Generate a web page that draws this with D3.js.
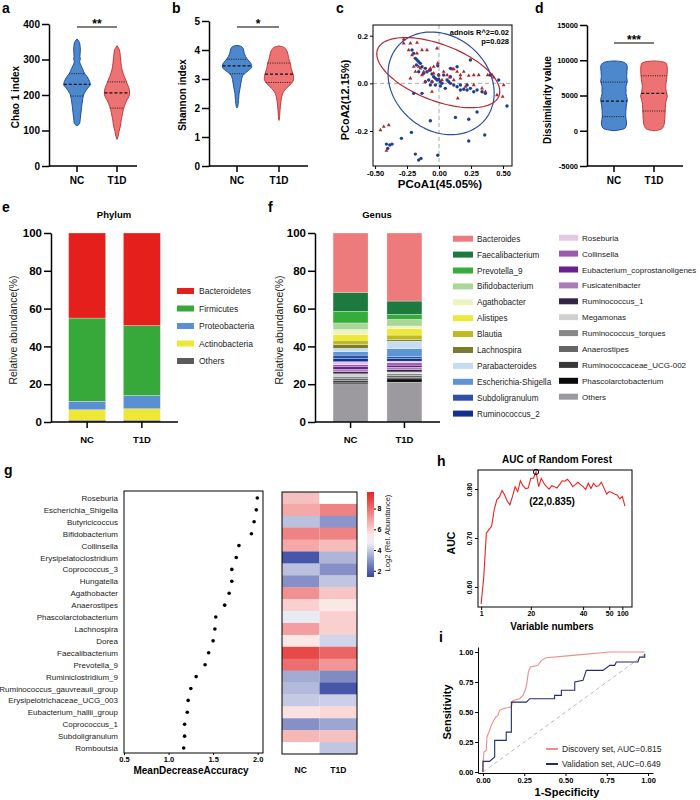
<!DOCTYPE html>
<html>
<head>
<meta charset="utf-8">
<script src="https://cdn.jsdelivr.net/npm/d3@7"></script>
<style>
body { margin: 0; background: #fff; }
svg { display: block; }
</style>
</head>
<body>
<script>
const FONT = "'Liberation Sans', Arial, Helvetica, sans-serif"
const groups = ['NC', 'T1D']

// ---- a/b/d violins: [value, relative half width] ----
const chaoNC = [[113,0],[120,0.2],[135,0.25],[150,0.3],[168,0.35],[186,0.42],[205,0.55],[219,0.8],[229,1.0],[238,0.95],[252,0.75],[262,0.55],[271,0.45],[283,0.3],[295,0.2],[300,0.25],[309,0.22],[327,0.25],[346,0.2],[358,0]]
const chaoT1D = [[75,0],[83,0.08],[97,0.15],[111,0.25],[130,0.32],[149,0.42],[168,0.55],[186,0.75],[196,0.9],[205,0.95],[219,0.9],[233,0.75],[252,0.55],[271,0.38],[290,0.3],[309,0.25],[327,0.18],[339,0]]
const chaoQuart = [[197, 230, 260], [163, 206, 237]]
const chaoTicks = [0, 100, 200, 300, 400]

const shannonNC = [[2.0,0],[2.05,0.05],[2.26,0.1],[2.49,0.14],[2.72,0.22],[2.9,0.28],[3.07,0.35],[3.18,0.5],[3.3,0.8],[3.41,1.0],[3.53,0.95],[3.7,0.68],[3.87,0.5],[4.05,0.42],[4.13,0.25],[4.16,0]]
const shannonT1D = [[1.57,0],[1.7,0.04],[1.92,0.07],[2.26,0.14],[2.49,0.24],[2.67,0.48],[2.84,0.83],[3.01,1.0],[3.18,0.95],[3.36,0.83],[3.53,0.78],[3.7,0.67],[3.87,0.6],[4.0,0.5],[4.1,0.3],[4.14,0]]
const shannonQuart = [[3.18, 3.45, 3.68], [2.88, 3.17, 3.55]]
const shannonTicks = [0, 1, 2, 3, 4, 5]

const dissNC = [[0,0],[150,0.5],[400,0.85],[1100,0.95],[2000,0.88],[3500,0.92],[4400,1.0],[5300,0.9],[6300,0.9],[7000,1.0],[7700,0.95],[9100,1.0],[9600,0.85],[9850,0.4],[9900,0]]
const dissT1D = [[0,0],[100,0.35],[400,0.65],[1100,0.78],[2300,0.83],[3200,0.85],[4200,0.9],[4900,1.0],[5600,0.92],[6300,0.88],[7300,0.95],[8700,1.0],[9500,0.95],[9800,0.6],[9900,0]]
const dissQuart = [[2000, 4200, 6900], [2800, 5300, 7800]]
const dissTicks = [-5000, 0, 5000, 10000, 15000]

// ---- c: PCoA ----
const pcoaNC = [[-0.211,0.140],[-0.198,0.126],[-0.185,0.105],[-0.172,0.098],[-0.159,0.091],[-0.146,0.084],[-0.177,0.077],[-0.133,0.070],[-0.107,0.063],[-0.159,0.049],[-0.120,0.042],[-0.094,0.049],[-0.068,0.056],[-0.055,0.039],[-0.042,0.028],[-0.029,0.021],[-0.016,0.014],[-0.003,0.017],[0.010,0.007],[0.023,0],[-0.010,0.074],[0.036,0.035],[0.063,0.014],[0.076,0.007],[0.089,0],[0.115,-0.007],[0.141,-0.014],[0.167,-0.007],[0.193,-0.025],[0.219,-0.028],[0.245,-0.021],[0.271,-0.035],[0.297,-0.028],[0.336,-0.035],[0.362,-0.042],[0.089,0.063],[0.141,0.070],[0.245,0.098],[-0.133,-0.042],[-0.198,-0.042],[0.010,-0.011],[0.049,-0.021],[-0.029,-0.007],[-0.055,0.007],[-0.081,0.014],[0.401,0.035],[0.466,0.014],[0.531,-0.095],[0.297,-0.120],[0.232,-0.151],[0.128,-0.143],[-0.068,-0.157],[-0.216,-0.206],[-0.411,-0.255],[-0.385,-0.259],[-0.367,-0.255],[-0.401,-0.273],[-0.294,-0.231],[-0.185,-0.297],[-0.141,-0.315],[-0.159,-0.322],[-0.010,-0.302],[0.232,-0.242],[0.357,-0.217],[-0.107,0.007],[-0.068,-0.007],[0.219,-0.007],[0.167,-0.028],[0.089,0.028],[-0.003,0.035]]
const pcoaT1D = [[-0.276,0.185],[-0.276,0.168],[-0.224,0.168],[-0.172,0.171],[-0.133,0.140],[-0.094,0.140],[-0.016,0.147],[-0.237,0.140],[-0.172,0.126],[-0.211,0.119],[-0.198,0.070],[-0.159,0.070],[-0.120,0.049],[-0.081,0.053],[-0.068,0.063],[-0.042,0.042],[-0.003,0.035],[0.036,0.049],[0.102,0.060],[0.115,0.060],[0.141,0.049],[0.167,0.035],[0.193,0.049],[0.232,0.032],[0.271,0.035],[0.310,0.035],[0.380,0.035],[0.414,0.035],[0.427,0.025],[0.336,-0.021],[0.362,-0.035],[0.505,-0.007],[0.497,-0.056],[0.453,-0.049],[0.146,-0.063],[0.023,0.014],[0.063,0.035],[0.083,0.025],[-0.055,0.007],[-0.107,0.007],[-0.224,0.021],[-0.133,0.035],[-0.458,-0.196],[-0.432,-0.182],[-0.393,-0.175],[-0.411,-0.283],[-0.010,0.084],[-0.146,0.063],[-0.042,0.070],[0.206,-0.014],[0.271,-0.007],[0.167,0.021],[0.115,0.014],[-0.185,0.049],[-0.055,-0.035]]
// centre x, centre y, axis u (x,y), axis v (x,y)
const ellipseNC = [0.016, 0.0, 0.341, -0.154, -0.236, -0.151]
const ellipseT1D = [-0.006, 0.045, 0.474, -0.098, -0.078, -0.110]
const pcoaXTicks = [-0.5, -0.25, 0, 0.25, 0.5]
const pcoaYTicks = [-0.2, 0, 0.2]

// ---- e: phylum ----
const phylumNames = ['Bacteroidetes', 'Firmicutes', 'Proteobacteria', 'Actinobacteria', 'Others']
const phylumColors = ['#e41f1c', '#36a93a', '#5b8fd3', '#eee737', '#5b5b5b']
const phylumNC = [45, 44, 4.5, 5.5, 1]
const phylumT1D = [49, 37, 7, 6, 1]

// ---- f: genus ----
const genusNames = ['Bacteroides','Faecalibacterium','Prevotella_9','Bifidobacterium','Agathobacter','Alistipes','Blautia','Lachnospira','Parabacteroides','Escherichia-Shigella','Subdoligranulum','Ruminococcus_2','Roseburia','Collinsella','Eubacterium_coprostanoligenes','Fusicatenibacter','Ruminococcus_1','Megamonas','Ruminococcus_torques','Anaerostipes','Ruminococcaceae_UCG-002','Phascolarctobacterium','Others']
const genusColors = ['#ee7b7b','#1d7a3e','#36ad3b','#a8d799','#eef3c4','#efe838','#bfbb1f','#7b7a2f','#c5dcf3','#5b95d5','#2d51a6','#10318f','#e4c7e4','#9a59ad','#6c1d8e','#a97bb8','#352448','#d0d0d0','#878787','#666666','#383838','#0a0a0a','#9c9a9f']
const genusNC = [31.4, 10.0, 6.2, 3.5, 2.6, 3.0, 2.3, 2.0, 1.8, 1.8, 1.9, 1.6, 1.5, 1.2, 1.4, 1.1, 1.2, 1.3, 1.0, 1.1, 1.0, 0.9, 20.2]
const genusT1D = [36.0, 7.0, 2.7, 3.5, 1.4, 3.4, 2.3, 0.9, 4.0, 4.3, 1.0, 1.3, 0.9, 1.2, 1.1, 1.2, 1.3, 1.0, 0.9, 0.9, 0.9, 1.7, 21.1]
const abundTicks = [0, 20, 40, 60, 80, 100]

// ---- g: importance + heatmap ----
const impGenera = ['Roseburia','Escherichia_Shigella','Butyricicoccus','Bifidobacterium','Collinsella','Erysipelatoclostridium','Coprococcus_3','Hungatella','Agathobacter','Anaerostipes','Phascolarctobacterium','Lachnospira','Dorea','Faecalibacterium','Prevotella_9','Ruminiclostridium_9','Ruminococcus_gauvreauii_group','Erysipelotrichaceae_UCG_003','Eubacterium_hallii_group','Coprococcus_1','Subdoligranulum','Romboutsia']
const impValues = [1.996, 1.985, 1.96, 1.93, 1.79, 1.76, 1.71, 1.71, 1.68, 1.63, 1.53, 1.52, 1.50, 1.45, 1.41, 1.31, 1.25, 1.22, 1.21, 1.18, 1.18, 1.17]
const impTicks = [0.5, 1.0, 1.5, 2.0]
const heatNC = [6.3, 6.8, 3.8, 7.6, 6.8, 1.8, 3.8, 2.9, 7.3, 6.0, 4.6, 7.0, 5.5, 8.8, 8.0, 3.4, 3.7, 4.0, 5.6, 2.9, 6.5, 5.0]
const heatT1D = [5.0, 7.6, 3.0, 7.6, 6.4, 3.6, 2.9, 3.9, 6.2, 5.5, 6.0, 6.0, 4.2, 8.2, 7.2, 2.8, 1.8, 4.1, 5.8, 3.3, 6.3, 3.9]
const heatTicks = [2, 4, 6, 8]

// ---- h: AUC vs number of variables (x = position 1..56) ----
const aucValues = [0.565, 0.62, 0.71, 0.717, 0.724, 0.758, 0.778, 0.784, 0.797, 0.788, 0.775, 0.768, 0.785, 0.805, 0.795, 0.817, 0.807, 0.801, 0.802, 0.822, 0.822, 0.835, 0.805, 0.822, 0.812, 0.805, 0.80, 0.807, 0.805, 0.802, 0.809, 0.817, 0.816, 0.820, 0.814, 0.805, 0.809, 0.814, 0.809, 0.805, 0.799, 0.812, 0.801, 0.812, 0.805, 0.807, 0.814, 0.802, 0.790, 0.795, 0.793, 0.790, 0.788, 0.780, 0.785, 0.765]
const aucBest = [22, 0.835]
const aucTickPos = [1, 20, 40, 50, 55]
const aucTickLabels = ['1', '20', '40', '50', '100']
const aucYTicks = [0.6, 0.7, 0.8]

// ---- i: ROC ----
const rocDiscovery = [[0,0],[0,0.056],[0.006,0.167],[0.02,0.18],[0.024,0.29],[0.036,0.333],[0.05,0.389],[0.061,0.417],[0.077,0.458],[0.091,0.472],[0.101,0.514],[0.121,0.528],[0.172,0.542],[0.182,0.597],[0.222,0.611],[0.242,0.639],[0.259,0.694],[0.267,0.75],[0.275,0.833],[0.287,0.875],[0.333,0.889],[0.354,0.931],[0.384,0.953],[0.545,0.972],[0.768,1.0],[0.98,1.0]]
const rocValidation = [[0,0],[0,0.056],[0,0.089],[0.04,0.089],[0.071,0.125],[0.071,0.264],[0.141,0.264],[0.141,0.333],[0.172,0.333],[0.172,0.583],[0.263,0.583],[0.283,0.611],[0.434,0.611],[0.434,0.639],[0.475,0.639],[0.475,0.681],[0.556,0.681],[0.556,0.75],[0.606,0.764],[0.626,0.847],[0.727,0.847],[0.768,0.889],[0.798,0.889],[0.808,0.917],[0.939,0.917],[0.949,0.958],[0.98,0.958],[0.98,0.986]]
const rocTicks = [0, 0.25, 0.5, 0.75, 1]
const rocLabels = ['Discovery set, AUC=0.815', 'Validation set, AUC=0.649']

const svg = d3.select('body').append('svg')
    .attr('width', 700).attr('height', 800)
    .attr('font-family', FONT)

const styleAxis = (ax, size, bold = true, sw = 1) => {
    ax.attr('font-family', FONT)
    ax.select('.domain').attr('stroke-width', sw)
    ax.selectAll('.tick line').attr('stroke-width', sw)
    ax.selectAll('text').attr('font-size', size).attr('font-weight', bold ? 'bold' : 'normal').attr('fill', '#000')
}
const label = (x, y, txt, size, opts = {}) => {
    const t = svg.append('text')
        .attr('x', x).attr('y', y)
        .attr('font-size', size)
        .attr('font-weight', opts.weight || 'bold')
        .attr('text-anchor', opts.anchor || 'middle')
        .attr('fill', opts.fill || '#000')
        .text(txt)
    if (opts.rotate) t.attr('transform', `rotate(-90,${x},${y})`)
    return t
}

// panel letters
;[['a', 2, 13], ['b', 172, 13], ['c', 336, 13], ['d', 535, 13], ['e', 2, 212], ['f', 268, 212], ['g', 4, 475], ['h', 437, 466], ['i', 439, 642]]
    .forEach(d => label(d[1], d[2], d[0], 14, { anchor: 'start' }))

// ---------- violins ----------
const widthAt = (prof, v) => {
    for (let i = 1; i < prof.length; i++) {
        if (v <= prof[i][0]) {
            const t = (v - prof[i - 1][0]) / (prof[i][0] - prof[i - 1][0])
            return prof[i - 1][1] + t * (prof[i][1] - prof[i - 1][1])
        }
    }
    return 0
}
const vFill = ['#4d87cc', '#ed7273']
const vStroke = ['#1d4fa3', '#c23b3b']

const violinPanel = (o) => {
    const bottom = 166
    const y = d3.scaleLinear().domain(o.domain).range([bottom, o.top])
    const x = d3.scalePoint().domain(groups).range(o.centers)
    const w = d3.scaleLinear().domain([0, 1]).range([0, o.halfWidth])
    const g = svg.append('g')
    o.profiles.forEach((prof, i) => {
        const cx = x(groups[i])
        const area = d3.area().curve(d3.curveMonotoneY)
            .y(d => y(d[0]))
            .x0(d => cx - w(d[1]))
            .x1(d => cx + w(d[1]))
        g.append('path').attr('d', area(prof))
            .attr('fill', vFill[i]).attr('stroke', vStroke[i]).attr('stroke-width', 1)
        o.quarts[i].forEach((q, j) => {
            const hw = w(widthAt(prof, q))
            g.append('line')
                .attr('x1', cx - hw).attr('x2', cx + hw)
                .attr('y1', y(q)).attr('y2', y(q))
                .attr('stroke', '#111')
                .attr('stroke-width', j == 1 ? 1.2 : 0.9)
                .attr('stroke-dasharray', j == 1 ? '3,2' : '1,1.3')
        })
    })
    const yAx = g.append('g').attr('transform', `translate(${o.axisX},0)`)
        .call(d3.axisLeft(y).tickValues(o.ticks).tickFormat(d => String(d)).tickSize(7).tickPadding(2).tickSizeOuter(0))
    styleAxis(yAx, o.tickFont, true, 1.5)
    g.append('line').attr('x1', o.axisX).attr('x2', o.xEnd).attr('y1', bottom).attr('y2', bottom)
        .attr('stroke', '#000').attr('stroke-width', 1.5)
    groups.forEach(gr => {
        g.append('line').attr('x1', x(gr)).attr('x2', x(gr)).attr('y1', bottom).attr('y2', bottom + 6)
            .attr('stroke', '#000').attr('stroke-width', 1.5)
        label(x(gr), 184, gr, 10)
    })
    g.append('line').attr('x1', x('NC')).attr('x2', x('T1D')).attr('y1', o.sigY).attr('y2', o.sigY)
        .attr('stroke', '#000').attr('stroke-width', 1.2)
    label((x('NC') + x('T1D')) / 2, o.sigY + 0.5, o.sig, 12)
    label(o.titleX, o.titleY, o.title, 10, { rotate: true })
}

violinPanel({ domain: [0, 400], top: 24, centers: [77, 117], halfWidth: 13.3, axisX: 49, xEnd: 137,
    ticks: chaoTicks, tickFont: 10, profiles: [chaoNC, chaoT1D], quarts: chaoQuart,
    sig: '**', sigY: 27, title: 'Chao 1  index', titleX: 19, titleY: 97 })
violinPanel({ domain: [0, 5], top: 21, centers: [237, 279], halfWidth: 14.7, axisX: 209, xEnd: 308,
    ticks: shannonTicks, tickFont: 10, profiles: [shannonNC, shannonT1D], quarts: shannonQuart,
    sig: '*', sigY: 27, title: 'Shannon index', titleX: 186, titleY: 95 })
violinPanel({ domain: [-5000, 15000], top: 25, centers: [614, 654], halfWidth: 13.3, axisX: 587, xEnd: 683,
    ticks: dissTicks, tickFont: 7.5, profiles: [dissNC, dissT1D], quarts: dissQuart,
    sig: '***', sigY: 43, title: 'Dissimilarity value', titleX: 551, titleY: 100 })

// ---------- c: PCoA ----------
{
    const x = d3.scaleLinear().domain([-0.516, 0.57]).range([373, 512])
    const y = d3.scaleLinear().domain([-0.347, 0.245]).range([166, 25])
    const g = svg.append('g')
    g.append('line').attr('x1', x(0)).attr('x2', x(0)).attr('y1', y.range()[1]).attr('y2', y.range()[0])
        .attr('stroke', '#aaa').attr('stroke-dasharray', '4,3')
    g.append('line').attr('x1', x.range()[0]).attr('x2', x.range()[1]).attr('y1', y(0)).attr('y2', y(0))
        .attr('stroke', '#aaa').attr('stroke-dasharray', '4,3')

    const ell = (e) => d3.range(0, 2 * Math.PI + 0.01, Math.PI / 60).map(t =>
        [e[0] + e[2] * Math.cos(t) + e[4] * Math.sin(t), e[1] + e[3] * Math.cos(t) + e[5] * Math.sin(t)])
    const line = d3.line().x(d => x(d[0])).y(d => y(d[1]))
    g.append('path').attr('d', line(ell(ellipseNC))).attr('fill', 'none').attr('stroke', '#2b4ea2').attr('stroke-width', 1.2)
    g.append('path').attr('d', line(ell(ellipseT1D))).attr('fill', 'none').attr('stroke', '#b02a30').attr('stroke-width', 1.2)

    g.selectAll('circle.nc').data(pcoaNC).join('circle')
        .attr('cx', d => x(d[0])).attr('cy', d => y(d[1])).attr('r', 1.7)
        .attr('fill', '#1e3f95')
    g.selectAll('path.t1d').data(pcoaT1D).join('path')
        .attr('class', 't1d')
        .attr('transform', d => `translate(${x(d[0])},${y(d[1])})`)
        .attr('d', d3.symbol(d3.symbolTriangle, 6.5))
        .attr('fill', '#a8262b')

    g.append('rect').attr('x', 373).attr('y', 25).attr('width', 139).attr('height', 141)
        .attr('fill', 'none').attr('stroke', '#000').attr('stroke-width', 1)
    const xa = g.append('g').attr('transform', 'translate(0,166)')
        .call(d3.axisBottom(x).tickValues(pcoaXTicks).tickFormat(d => d.toFixed(2)).tickSize(3).tickPadding(2).tickSizeOuter(0))
    styleAxis(xa, 7.5)
    xa.select('.domain').remove()
    const ya = g.append('g').attr('transform', 'translate(373,0)')
        .call(d3.axisLeft(y).tickValues(pcoaYTicks).tickFormat(d => d.toFixed(1)).tickSize(3).tickPadding(2).tickSizeOuter(0))
    styleAxis(ya, 7.5)
    ya.select('.domain').remove()
    label(509, 35, 'adnois R^2=0.02', 7.5, { anchor: 'end' })
    label(509, 44, 'p=0.028', 7.5, { anchor: 'end' })
    label(440, 188, 'PCoA1(45.05%)', 11.5)
    label(349, 100, 'PCoA2(12.15%)', 11, { rotate: true })
}

// ---------- e/f stacked bars ----------
const stackPanel = (o) => {
    const y = d3.scaleLinear().domain([0, 100]).range([422, 233])
    const x = d3.scalePoint().domain(groups).range([o.axisX, o.xEnd]).padding(0.66)
    const rows = groups.map((gr, i) => {
        const r = { group: gr }
        o.names.forEach((n, j) => { r[n] = o.values[i][j] })
        return r
    })
    const series = d3.stack().keys(o.names.slice().reverse())(rows)
    const color = d3.scaleOrdinal().domain(o.names).range(o.colors)
    const g = svg.append('g')
    g.selectAll('g.layer').data(series).join('g')
        .attr('fill', d => color(d.key))
        .selectAll('rect').data(d => d).join('rect')
        .attr('x', d => x(d.data.group) - o.barW / 2)
        .attr('width', o.barW)
        .attr('y', d => y(d[1]))
        .attr('height', d => y(d[0]) - y(d[1]))
        .attr('stroke', '#fff').attr('stroke-width', 0.4).attr('stroke-opacity', 0.7)
    const ya = g.append('g').attr('transform', `translate(${o.axisX},0)`)
        .call(d3.axisLeft(y).tickValues(abundTicks).tickSize(7).tickPadding(2).tickSizeOuter(0))
    styleAxis(ya, 11.5, true, 1.5)
    g.append('line').attr('x1', o.axisX).attr('x2', o.xEnd).attr('y1', 422).attr('y2', 422)
        .attr('stroke', '#000').attr('stroke-width', 1.5)
    groups.forEach(gr => {
        g.append('line').attr('x1', x(gr)).attr('x2', x(gr)).attr('y1', 422).attr('y2', 428)
            .attr('stroke', '#000').attr('stroke-width', 1.5)
        label(x(gr), 443, gr, 9.5)
    })
    label(o.titleX, 218, o.title, 9.5)
    label(o.ylabX, 330, 'Relative abundance(%)', 10.5, { rotate: true, weight: 'normal', fill: '#222' })
    o.legend.forEach(col => {
        col.items.forEach((n, k) => {
            const cy = col.y0 + k * col.dy
            g.append('rect').attr('x', col.x).attr('y', cy - col.h / 2).attr('width', col.w).attr('height', col.h)
                .attr('fill', color(n))
            label(col.x + col.w + col.gap, cy + 3, n, col.font, { anchor: 'start', weight: 'normal', fill: '#222' })
        })
    })
}

stackPanel({ names: phylumNames, colors: phylumColors, values: [phylumNC, phylumT1D],
    axisX: 51, xEnd: 178, barW: 37, title: 'Phylum', titleX: 114, ylabX: 17,
    legend: [{ items: phylumNames, x: 177, y0: 291, dy: 17.5, w: 17, h: 6, gap: 5, font: 8.5 }] })
stackPanel({ names: genusNames, colors: genusColors, values: [genusNC, genusT1D],
    axisX: 315, xEnd: 440, barW: 35, title: 'Genus', titleX: 377, ylabX: 283,
    legend: [
        { items: genusNames.slice(0, 12), x: 453, y0: 238.7, dy: 15.9, w: 20, h: 6, gap: 4, font: 8.2 },
        { items: genusNames.slice(12), x: 559, y0: 237.7, dy: 15.9, w: 19, h: 6, gap: 4, font: 8 }
    ] })

// ---------- g: importance dots + heatmap ----------
{
    const yb = d3.scaleBand().domain(impGenera).range([492, 754])
    const x = d3.scaleLinear().domain([0.5, 2.06]).range([124, 263])
    const g = svg.append('g')
    g.append('rect').attr('x', 124).attr('y', 491).attr('width', 139).attr('height', 262)
        .attr('fill', 'none').attr('stroke', '#000').attr('stroke-width', 1)
    g.selectAll('circle.imp').data(impValues).join('circle')
        .attr('cx', d => x(d)).attr('cy', (d, i) => yb(impGenera[i]) + yb.bandwidth() / 2).attr('r', 1.8)
        .attr('fill', '#000')
    impGenera.forEach(n => label(118, yb(n) + yb.bandwidth() / 2 + 3, n, 8, { anchor: 'end', weight: 'normal', fill: '#222' }))
    const xa = g.append('g').attr('transform', 'translate(0,753)')
        .call(d3.axisBottom(x).tickValues(impTicks).tickFormat(d3.format('.1f')).tickSize(2).tickPadding(2).tickSizeOuter(0))
    styleAxis(xa, 7.5)
    xa.select('.domain').remove()
    label(191, 774, 'MeanDecreaseAccuracy', 10)

    // heatmap
    const hx = d3.scaleBand().domain(groups).range([282, 357])
    const col = d3.scaleLinear().domain([1.5, 5, 9.5]).range(['#3546a0', '#ffffff', '#e32626']).clamp(true)
    ;[heatNC, heatT1D].forEach((vals, c) => {
        g.selectAll(null).data(vals).join('rect')
            .attr('x', hx(groups[c])).attr('width', hx.bandwidth())
            .attr('y', (d, i) => yb(impGenera[i])).attr('height', yb.bandwidth() + 0.3)
            .attr('fill', d => col(d))
    })
    g.append('rect').attr('x', 282).attr('y', 492).attr('width', 75).attr('height', 262)
        .attr('fill', 'none').attr('stroke', '#000').attr('stroke-width', 1)
    groups.forEach(gr => label(hx(gr) + hx.bandwidth() / 2, 773, gr, 8.5))

    // colour bar
    const cb = d3.scaleLinear().domain([1.4, 9.6]).range([577, 492])
    const grad = svg.append('defs').append('linearGradient').attr('id', 'hmgrad')
        .attr('x1', 0).attr('y1', 1).attr('x2', 0).attr('y2', 0)
    d3.range(0, 1.001, 0.1).forEach(t => {
        const v = 1.4 + t * 8.2
        grad.append('stop').attr('offset', t).attr('stop-color', col(v))
    })
    g.append('rect').attr('x', 367).attr('y', 492).attr('width', 7).attr('height', 85).attr('fill', 'url(#hmgrad)')
    const ca = g.append('g').attr('transform', 'translate(374,0)')
        .call(d3.axisRight(cb).tickValues(heatTicks).tickSize(2).tickPadding(1.5).tickSizeOuter(0))
    styleAxis(ca, 7)
    ca.select('.domain').remove()
    label(390, 533, 'Log2 (Rel. Abundance)', 7.5, { rotate: true, weight: 'normal', fill: '#222' })
}

// ---------- h: AUC curve ----------
{
    const x = d3.scaleLinear().domain([-0.2, 58.7]).range([478, 632])
    const y = d3.scaleLinear().domain([0.559, 0.839]).range([607, 470])
    const g = svg.append('g')
    g.append('path')
        .attr('d', d3.line().x((d, i) => x(i + 1)).y(d => y(d))(aucValues))
        .attr('fill', 'none').attr('stroke', '#ee2020').attr('stroke-width', 1.1)
    g.append('circle').attr('cx', x(aucBest[0])).attr('cy', y(aucBest[1])).attr('r', 2.6)
        .attr('fill', 'none').attr('stroke', '#000').attr('stroke-width', 1)
    g.append('rect').attr('x', 478).attr('y', 470).attr('width', 154).attr('height', 137)
        .attr('fill', 'none').attr('stroke', '#000').attr('stroke-width', 1)
    const xa = g.append('g').attr('transform', 'translate(0,607)')
        .call(d3.axisBottom(x).tickValues(aucTickPos).tickFormat((d, i) => aucTickLabels[i]).tickSize(3).tickPadding(1.5).tickSizeOuter(0))
    styleAxis(xa, 7)
    xa.select('.domain').remove()
    const ya = g.append('g').attr('transform', 'translate(478,0)')
        .call(d3.axisLeft(y).tickValues(aucYTicks).tickFormat(d3.format('.2f')).tickSize(3).tickSizeOuter(0))
    styleAxis(ya, 7)
    ya.select('.domain').remove()
    ya.selectAll('.tick text').attr('x', 0).attr('dy', 0).attr('text-anchor', 'middle')
        .attr('transform', 'translate(-6,0) rotate(-90)')
    label(557, 463, 'AUC of Random Forest', 10)
    label(552, 505, `(${aucBest[0]},${aucBest[1]})`, 10)
    label(552, 630, 'Variable numbers', 10)
    label(455, 543, 'AUC', 10.5, { rotate: true })
}

// ---------- i: ROC ----------
{
    const x = d3.scaleLinear().domain([-0.03, 1.03]).range([478, 653])
    const y = d3.scaleLinear().domain([-0.008, 1.042]).range([773, 647])
    const g = svg.append('g')
    g.append('line').attr('x1', x(0)).attr('y1', y(0)).attr('x2', x(0.98)).attr('y2', y(0.98))
        .attr('stroke', '#bbb').attr('stroke-width', 1).attr('stroke-dasharray', '4,3')
    const line = d3.line().x(d => x(d[0])).y(d => y(d[1]))
    g.append('path').attr('d', line(rocDiscovery)).attr('fill', 'none').attr('stroke', '#f28a8a').attr('stroke-width', 1.1)
    g.append('path').attr('d', line(rocValidation)).attr('fill', 'none').attr('stroke', '#1f2d6e').attr('stroke-width', 1.1)
    const xa = g.append('g').attr('transform', 'translate(0,773)')
        .call(d3.axisBottom(x).tickValues(rocTicks).tickFormat(d3.format('.2f')).tickSize(3).tickPadding(1.5).tickSizeOuter(0))
    styleAxis(xa, 7.5)
    const ya = g.append('g').attr('transform', 'translate(478,0)')
        .call(d3.axisLeft(y).tickValues(rocTicks).tickFormat(d3.format('.2f')).tickSize(3).tickPadding(1.5).tickSizeOuter(0))
    styleAxis(ya, 7.5)
    label(567, 796, '1-Specificity', 11)
    label(451, 712, 'Sensitivity', 11, { rotate: true })
    ;['#f28a8a', '#1f2d6e'].forEach((c, k) => {
        const ly = 749 + k * 15
        g.append('line').attr('x1', 546).attr('x2', 558).attr('y1', ly).attr('y2', ly)
            .attr('stroke', c).attr('stroke-width', 2)
        label(562, ly + 3, rocLabels[k], 8.5, { anchor: 'start', weight: 'normal', fill: '#222' })
    })
}
</script>
</body>
</html>
